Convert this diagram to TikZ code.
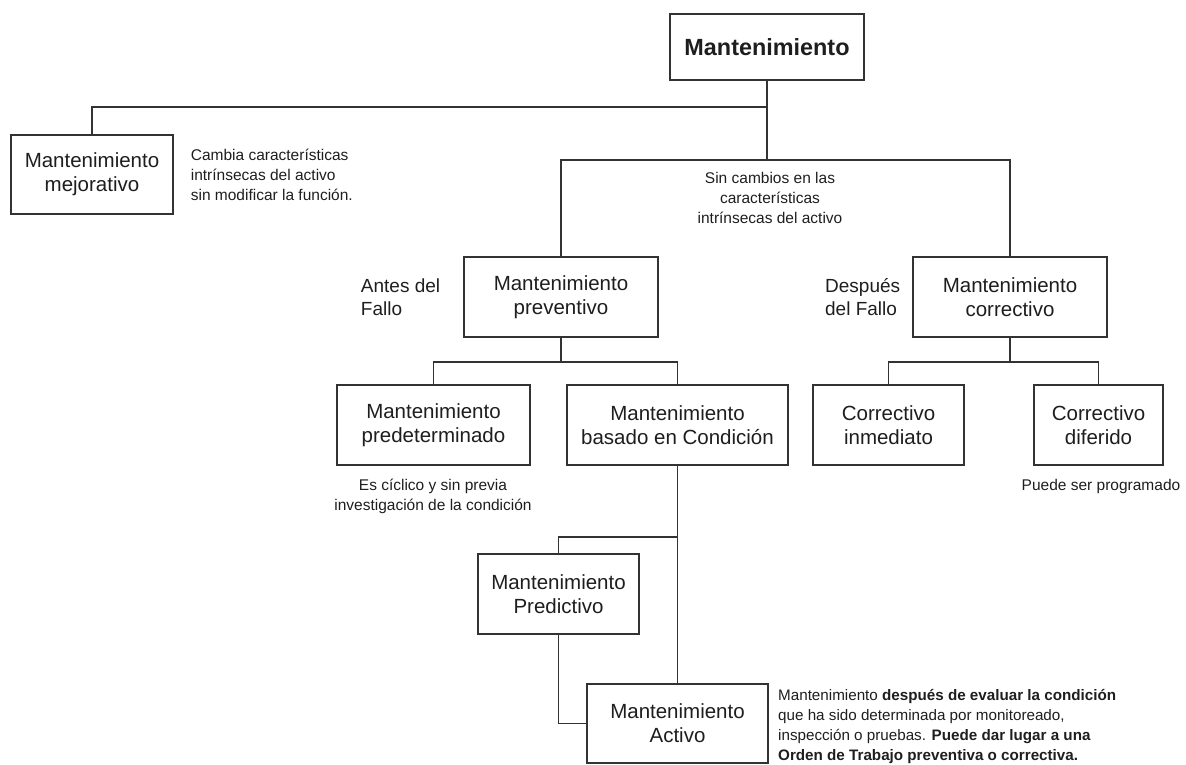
\documentclass[tikz,border=0pt]{standalone}
\usepackage{fontspec}
\setmainfont{Liberation Sans}
\usetikzlibrary{positioning}

\definecolor{ink}{HTML}{1E1E1E}
\definecolor{wire}{HTML}{333333}

\begin{document}
\begin{tikzpicture}[
  x=1pt, y=-1pt,
  every node/.style={text=ink},
  box/.style={rectangle, draw=wire, line width=1.3pt, fill=white, inner sep=0pt, align=center, font=\fontsize{20.5}{24}\selectfont},
  note/.style={inner sep=0pt, font=\fontsize{15.5}{20}\selectfont},
  side/.style={inner sep=0pt, align=left, font=\fontsize{19}{23}\selectfont},
  link/.style={draw=wire, line width=1.3pt}
]

\useasboundingbox (0,0) rectangle (1186,765);

% boxes
\node[box, minimum width=194pt, minimum height=66pt, font=\bfseries\fontsize{23.4}{28}\selectfont] (root) at (767,47) {Mantenimiento};
\node[box, minimum width=162pt, minimum height=79pt] (mejor) at (92,174.5) {Mantenimiento\\mejorativo};
\node[box, minimum width=194pt, minimum height=80pt] (prev) at (561,297) {Mantenimiento\\preventivo};
\node[box, minimum width=194pt, minimum height=80pt] (corr) at (1010,297) {Mantenimiento\\correctivo};
\node[box, minimum width=193pt, minimum height=80pt] (predet) at (433.5,425) {Mantenimiento\\predeterminado};
\node[box, minimum width=221pt, minimum height=80pt] (basado) at (677.5,425) {Mantenimiento\\basado en Condición};
\node[box, minimum width=151pt, minimum height=80pt] (inmed) at (888.5,425) {Correctivo\\inmediato};
\node[box, minimum width=129pt, minimum height=80pt] (difer) at (1098.5,425) {Correctivo\\diferido};
\node[box, minimum width=161pt, minimum height=80pt] (predic) at (558.5,594) {Mantenimiento\\Predictivo};
\node[box, minimum width=181pt, minimum height=79pt] (activo) at (677.5,723.5) {Mantenimiento\\Activo};

% junctions
\coordinate (top) at (767,107);
\coordinate (mid) at (767,160);
\coordinate (prevj) at (561,362);
\coordinate (corrj) at (1010,362);
\coordinate (basj) at (677.5,537);

\draw[link] (root) -- (mid);
\draw[link] (top) -| (mejor);
\draw[link] (prev) |- (mid) -| (corr);
\draw[link] (prev) -- (prevj);
\draw[link] (predet) |- (prevj) -| (basado);
\draw[link] (corr) -- (corrj);
\draw[link] (inmed) |- (corrj) -| (difer);
\draw[link] (basado) -- (activo);
\draw[link] (basj) -| (predic);
\draw[link] (predic) |- (activo);

% notes
\node[note, align=left, right=17pt of mejor] (mejornote) {Cambia características\\intrínsecas del activo\\sin modificar la función.};
\node[note, align=center] (sinnote) at (770,198) {Sin cambios en las\\características\\intrínsecas del activo};
\node[side, left=23pt of prev] (antes) {Antes del\\Fallo};
\node[side, left=12pt of corr] (despues) {Después\\del Fallo};
\node[note, align=center] (predetnote) at (433,496) {Es cíclico y sin previa\\investigación de la condición};
\node[note] (difernote) at (1101,486) {Puede ser programado};
\node[note, anchor=west, align=left, font=\fontsize{15.2}{20}\selectfont] (activonote) at (778,726) {Mantenimiento \textbf{después de evaluar la condición}\\que ha sido determinada por monitoreado,\\inspección o pruebas. \textbf{Puede dar lugar a una}\\\textbf{Orden de Trabajo preventiva o correctiva.}};

\end{tikzpicture}
\end{document}
